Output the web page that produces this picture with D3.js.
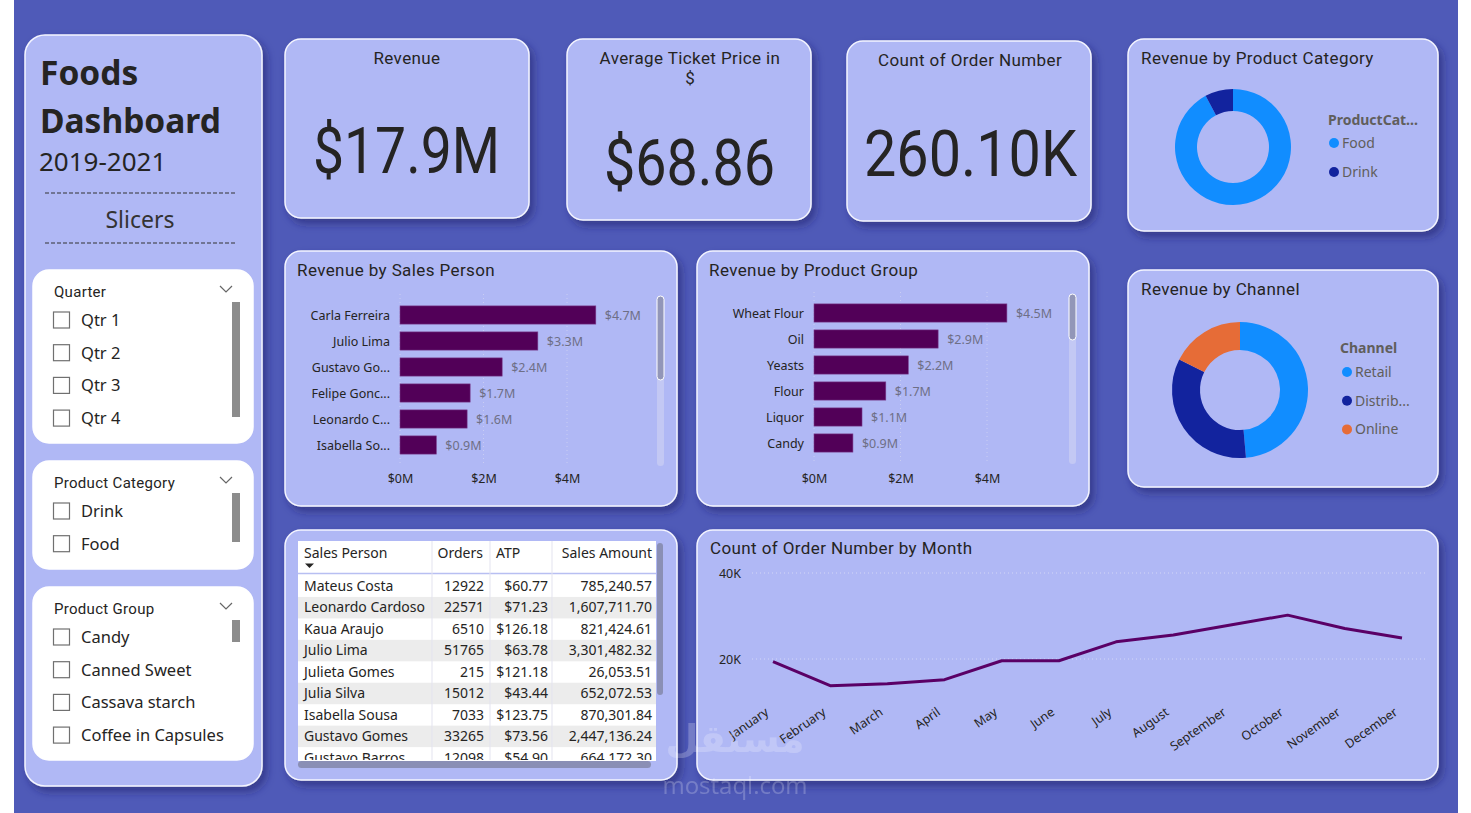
<!DOCTYPE html>
<html>
<head>
<meta charset="utf-8">
<script src="https://cdn.jsdelivr.net/npm/d3@7"></script>
<style>
  html,body{margin:0;padding:0;background:#ffffff;overflow:hidden;}
  svg{display:block;}
  .din{font-family:Roboto, "Noto Sans", sans-serif;}
  .seg{font-family:"Noto Sans", "Open Sans", sans-serif;}
</style>
</head>
<body>
<svg id="chart" width="1471" height="813"></svg>
<script>
// ---------------- DATA ----------------
const kpiTitles = ["Revenue", "Average Ticket Price in", "Count of Order Number"];
const kpiValues = ["$17.9M", "$68.86", "260.10K"];

const categoryNames = ["Food", "Drink"];
const categoryRevenue = [16500000, 1400000];

const channelNames = ["Retail", "Distributor", "Online"];
const channelLegend = ["Retail", "Distrib...", "Online"];
const channelRevenue = [8700000, 6050000, 3150000];

const salesPersonLabels = ["Carla Ferreira", "Julio Lima", "Gustavo Go...", "Felipe Gonc...", "Leonardo C...", "Isabella So..."];
const salesPersonRevenue = [4690000, 3301482, 2447136, 1680000, 1607712, 870302];

const productGroupLabels = ["Wheat Flour", "Oil", "Yeasts", "Flour", "Liquor", "Candy"];
const productGroupRevenue = [4460000, 2870000, 2180000, 1660000, 1110000, 900000];

const revenueTicks = [0, 2000000, 4000000];

const tableColumns = ["Sales Person", "Orders", "ATP", "Sales Amount"];
const tableNames = ["Mateus Costa", "Leonardo Cardoso", "Kaua Araujo", "Julio Lima", "Julieta Gomes", "Julia Silva", "Isabella Sousa", "Gustavo Gomes", "Gustavo Barros"];
const tableOrders = [12922, 22571, 6510, 51765, 215, 15012, 7033, 33265, 12098];
const tableATP = [60.77, 71.23, 126.18, 63.78, 121.18, 43.44, 123.75, 73.56, 54.90];
const tableSales = [785240.57, 1607711.70, 821424.61, 3301482.32, 26053.51, 652072.53, 870301.84, 2447136.24, 664172.30];

const months = ["January", "February", "March", "April", "May", "June", "July", "August", "September", "October", "November", "December"];
const monthlyOrders = [19370, 13800, 14260, 15190, 19600, 19600, 24000, 25600, 27900, 30200, 27100, 24900];
const orderTicks = [20000, 40000];

const quarterItems = ["Qtr 1", "Qtr 2", "Qtr 3", "Qtr 4"];
const categoryItems = ["Drink", "Food"];
const groupItems = ["Candy", "Canned Sweet", "Cassava starch", "Coffee in Capsules"];

// ---------------- STYLE ----------------
const BG = "#4f5ab8";
const CARD = "#b0b8f5";
const BAR = "#520058";
const LINE = "#5a0066";
const DONUT = {Food: "#118dff", Drink: "#12239e", Retail: "#118dff", Distributor: "#12239e", Online: "#e66c37"};

const svg = d3.select("#chart");
const defs = svg.append("defs");
const f = defs.append("filter").attr("id", "shadow").attr("x", "-10%").attr("y", "-10%").attr("width", "130%").attr("height", "130%");
f.append("feDropShadow").attr("dx", 4).attr("dy", 5).attr("stdDeviation", 4).attr("flood-color", "#1d2466").attr("flood-opacity", 0.55);

svg.append("rect").attr("x", 14).attr("y", 0).attr("width", 1444).attr("height", 813).attr("fill", BG);

function card(x, y, w, h, r = 16, fill = CARD, stroke = "#f4f5ff", shadow = true) {
  const c = svg.append("rect").attr("x", x).attr("y", y).attr("width", w).attr("height", h)
    .attr("rx", r).attr("ry", r).attr("fill", fill).attr("stroke", stroke).attr("stroke-width", 1.5);
  if (shadow) c.attr("filter", "url(#shadow)");
  return c;
}
function text(x, y, s, size, opts = {}) {
  return svg.append("text").attr("x", x).attr("y", y).text(s)
    .attr("class", opts.cls || "din")
    .attr("font-size", size)
    .attr("font-weight", opts.weight || 400)
    .attr("fill", opts.fill || "#252423")
    .attr("text-anchor", opts.anchor || "start")
    .attr("letter-spacing", opts.ls || 0);
}

// ---------------- LEFT PANEL ----------------
card(25, 35, 237, 751, 20);
text(40, 85, "Foods", 33.5, {cls: "seg", weight: 700});
text(40, 133, "Dashboard", 33.5, {cls: "seg", weight: 700});
text(39, 171, "2019-2021", 26, {cls: "seg"});
[193, 243].forEach(y => svg.append("line").attr("x1", 45).attr("x2", 235).attr("y1", y).attr("y2", y)
  .attr("stroke", "#333").attr("stroke-width", 1).attr("stroke-dasharray", "4,2"));
text(140, 228, "Slicers", 23, {cls: "seg", anchor: "middle", fill: "#333"});

function slicer(y, h, title, items, sbY, sbH) {
  card(33, y, 220, h, 16, "#ffffff", "#ffffff", false);
  text(54, y + 27, title, 15, {ls: 0.3});
  svg.append("path").attr("d", `M${220},${y + 16} l6,6 l6,-6`).attr("fill", "none").attr("stroke", "#666").attr("stroke-width", 1.2);
  svg.append("rect").attr("x", 232).attr("y", sbY).attr("width", 8).attr("height", sbH).attr("fill", "#8c8c8c");
  items.forEach((it, i) => {
    const cy = y + 50 + i * 32.7;
    svg.append("rect").attr("x", 53.5).attr("y", cy - 8).attr("width", 16).attr("height", 16)
      .attr("fill", "#fff").attr("stroke", "#707070").attr("stroke-width", 1.2);
    text(81, cy + 6, it, 16.5, {cls: "seg", fill: "#252423"});
  });
}
slicer(270, 173, "Quarter", quarterItems, 302, 115);
slicer(461, 108, "Product Category", categoryItems, 493, 49);
slicer(587, 173, "Product Group", groupItems, 620, 22);

// ---------------- KPI CARDS ----------------
const kpiBoxes = [[285, 39, 244, 179], [567, 39, 244, 181], [847, 41, 244, 180]];
kpiBoxes.forEach((b, i) => card(b[0], b[1], b[2], b[3], 16));
text(407, 64, kpiTitles[0], 17, {anchor: "middle", ls: 0.4});
text(690, 64, kpiTitles[1], 17, {anchor: "middle", ls: 0.4});
text(690, 84, "$", 17, {anchor: "middle"});
text(970, 66, kpiTitles[2], 17, {anchor: "middle", ls: 0.4});
const kpiPos = [[313, 173, 187], [604, 185, 171], [864, 176, 213]];
kpiValues.forEach((v, i) => {
  text(kpiPos[i][0], kpiPos[i][1], v, 64).attr("textLength", kpiPos[i][2]).attr("lengthAdjust", "spacingAndGlyphs");
});

// ---------------- DONUTS ----------------
function donut(cx, cy, ro, ri, names, values) {
  const pie = d3.pie().sort(null).value(d => d)(values);
  const arc = d3.arc().innerRadius(ri).outerRadius(ro);
  svg.append("g").attr("transform", `translate(${cx},${cy})`).selectAll("path").data(pie).join("path")
    .attr("d", arc).attr("fill", (d, i) => DONUT[names[i]]);
}
card(1128, 39, 310, 192, 16);
text(1141, 64, "Revenue by Product Category", 17, {ls: 0.4});
donut(1233, 147, 58, 36, categoryNames, categoryRevenue);
text(1328, 125, "ProductCat...", 14, {cls: "seg", weight: 700, fill: "#605e5c"});
categoryNames.forEach((n, i) => {
  const y = 143 + i * 29;
  svg.append("circle").attr("cx", 1334).attr("cy", y).attr("r", 5).attr("fill", DONUT[n]);
  text(1342, y + 5, n, 14, {cls: "seg", fill: "#605e5c"});
});

card(1128, 270, 310, 217, 16);
text(1141, 295, "Revenue by Channel", 17, {ls: 0.4});
donut(1240, 390, 68, 40, channelNames, channelRevenue);
text(1340, 353, "Channel", 14, {cls: "seg", weight: 700, fill: "#605e5c"});
channelNames.forEach((n, i) => {
  const y = 372 + i * 28.7;
  svg.append("circle").attr("cx", 1347).attr("cy", y).attr("r", 5).attr("fill", DONUT[n]);
  text(1355, y + 5, channelLegend[i], 14, {cls: "seg", fill: "#605e5c"});
});

// ---------------- BAR CHARTS ----------------
function barChart(bx, title, labels, values, x0, pxPerM, bandTop, sbTop, sbThumb) {
  card(bx, 251, 392, 255, 16);
  text(bx + 12, 276, title, 17, {ls: 0.4});
  const x = d3.scaleLinear().domain([0, 5000000]).range([x0, x0 + 5 * pxPerM]);
  const y = d3.scaleBand().domain(labels).range([bandTop, bandTop + 156]).paddingInner(0.3).paddingOuter(0.15);
  const g = svg.append("g");
  g.selectAll("line.grid").data(revenueTicks).join("line").attr("class", "grid")
    .attr("x1", d => x(d)).attr("x2", d => x(d)).attr("y1", bandTop - 8).attr("y2", bandTop + 162)
    .attr("stroke", "#c9cdf3").attr("stroke-dasharray", "1,3").attr("stroke-width", 1);
  g.selectAll("rect.bar").data(values).join("rect").attr("class", "bar")
    .attr("x", x(0)).attr("y", (d, i) => y(labels[i])).attr("width", d => x(d) - x(0)).attr("height", y.bandwidth())
    .attr("fill", BAR).attr("stroke", "#7a3c8c").attr("stroke-width", 0.6);
  g.selectAll("text.val").data(values).join("text").attr("class", "val seg")
    .attr("x", d => x(d) + 9).attr("y", (d, i) => y(labels[i]) + y.bandwidth() / 2 + 4.5)
    .attr("font-size", 12.5).attr("fill", "#6e6f86").text(d => "$" + (d / 1e6).toFixed(1) + "M");
  const ya = d3.axisLeft(y).tickSize(0).tickPadding(10);
  const ay = svg.append("g").attr("transform", `translate(${x0},1)`).call(ya);
  ay.select(".domain").remove();
  ay.selectAll("text").attr("class", "seg").attr("font-size", 12.5).attr("fill", "#252423").attr("font-family", null);
  const xa = d3.axisBottom(x).tickValues(revenueTicks).tickSize(0).tickPadding(0).tickFormat(d => "$" + d / 1e6 + "M");
  const ax = svg.append("g").attr("transform", `translate(0,474)`).call(xa);
  ax.select(".domain").remove();
  ax.selectAll("text").attr("class", "seg").attr("font-size", 12.5).attr("fill", "#252423").attr("font-family", null);
  svg.append("rect").attr("x", bx + 372).attr("y", sbTop).attr("width", 7).attr("height", 170).attr("rx", 3.5).attr("fill", "#c3c8f4");
  svg.append("rect").attr("x", bx + 372).attr("y", sbTop).attr("width", 7).attr("height", sbThumb).attr("rx", 3.5)
    .attr("fill", "#9296b8").attr("stroke", "#ffffff").attr("stroke-width", 1);
}
barChart(285, "Revenue by Sales Person", salesPersonLabels, salesPersonRevenue, 400, 41.75, 302, 296, 84);
barChart(697, "Revenue by Product Group", productGroupLabels, productGroupRevenue, 814, 43.25, 300, 294, 46);

// ---------------- TABLE ----------------
card(285, 530, 392, 250, 16);
svg.append("rect").attr("x", 298).attr("y", 541).attr("width", 358).attr("height", 220).attr("fill", "#ffffff");
const rowH = 21.45, rowTop = 575.5;
const clip = defs.append("clipPath").attr("id", "tclip");
clip.append("rect").attr("x", 298).attr("y", 541).attr("width", 358).attr("height", 219);
const tg = svg.append("g").attr("clip-path", "url(#tclip)");
tableNames.forEach((n, i) => {
  const y = rowTop + i * rowH;
  if (i % 2 === 1) tg.append("rect").attr("x", 298).attr("y", y).attr("width", 358).attr("height", rowH).attr("fill", "#ececec");
});
tg.append("line").attr("x1", 298).attr("x2", 656).attr("y1", 573.5).attr("y2", 573.5).attr("stroke", "#b8bff2").attr("stroke-width", 1.5);
[432, 490, 552].forEach(xv => tg.append("line").attr("x1", xv).attr("x2", xv).attr("y1", 541).attr("y2", 761)
  .attr("stroke", "#e3e3ef").attr("stroke-width", 1));
const colX = [304, 484, 548, 652];
const colAnchor = ["start", "end", "end", "end"];
const fmt2 = d3.format(",.2f");
tableNames.forEach((n, i) => {
  const y = rowTop + i * rowH + 15.5;
  const vals = [n, String(tableOrders[i]), "$" + tableATP[i].toFixed(2), fmt2(tableSales[i])];
  vals.forEach((v, j) => tg.append("text").attr("x", colX[j]).attr("y", y).text(v).attr("class", "seg")
    .attr("font-size", 14).attr("fill", "#252423").attr("text-anchor", colAnchor[j]));
});
const headX = [304, 483, 496, 652];
const headAnchor = ["start", "end", "start", "end"];
tableColumns.forEach((c, j) => tg.append("text").attr("x", headX[j]).attr("y", 558).text(c).attr("class", "seg")
  .attr("font-size", 14).attr("fill", "#252423").attr("text-anchor", headAnchor[j]));
svg.append("path").attr("d", "M305,563.5 l9,0 l-4.5,4.5 z").attr("fill", "#252423");
svg.append("rect").attr("x", 657).attr("y", 543).attr("width", 6).attr("height", 152).attr("rx", 3).attr("fill", "#8a8fb5");
svg.append("rect").attr("x", 298).attr("y", 761).attr("width", 353).attr("height", 7).attr("rx", 3.5).attr("fill", "#8a8fb5");

// ---------------- LINE CHART ----------------
card(697, 530, 741, 250, 16);
text(710, 554, "Count of Order Number by Month", 17, {ls: 0.4});
const lx = d3.scalePoint().domain(months).range([773, 1402]);
const ly = d3.scaleLinear().domain([0, 40000]).range([745, 573]);
svg.append("g").selectAll("line").data(orderTicks).join("line")
  .attr("x1", 752).attr("x2", 1425).attr("y1", d => ly(d)).attr("y2", d => ly(d))
  .attr("stroke", "#d3d6f6").attr("stroke-dasharray", "1,3");
const yAx = svg.append("g").attr("transform", "translate(741,0)")
  .call(d3.axisLeft(ly).tickValues(orderTicks).tickSize(0).tickPadding(0).tickFormat(d => d / 1000 + "K"));
yAx.select(".domain").remove();
yAx.selectAll("text").attr("class", "seg").attr("font-size", 12.5).attr("fill", "#252423").attr("font-family", null);
svg.append("path").datum(monthlyOrders)
  .attr("d", d3.line().x((d, i) => lx(months[i])).y(d => ly(d)))
  .attr("fill", "none").attr("stroke", LINE).attr("stroke-width", 3).attr("stroke-linejoin", "round");
const xAx = svg.append("g").attr("transform", "translate(0,714)")
  .call(d3.axisBottom(lx).tickSize(0).tickPadding(0));
xAx.select(".domain").remove();
xAx.selectAll("text").attr("class", "seg").attr("font-size", 12.5).attr("fill", "#252423").attr("font-family", null)
  .attr("text-anchor", "end").attr("dy", 0).attr("transform", "translate(-4,0) rotate(-35)");

// ---------------- WATERMARK ----------------
svg.append("text").attr("x", 735).attr("y", 752).text("مستقل").attr("font-family", "DejaVu Sans, sans-serif")
  .attr("font-size", 38).attr("font-weight", 700).attr("fill", "#ffffff").attr("opacity", 0.22).attr("text-anchor", "middle");
svg.append("text").attr("x", 735).attr("y", 794).text("mostaql.com").attr("font-family", "Open Sans, sans-serif")
  .attr("font-size", 24).attr("fill", "#ffffff").attr("opacity", 0.22).attr("text-anchor", "middle");
</script>
</body>
</html>
